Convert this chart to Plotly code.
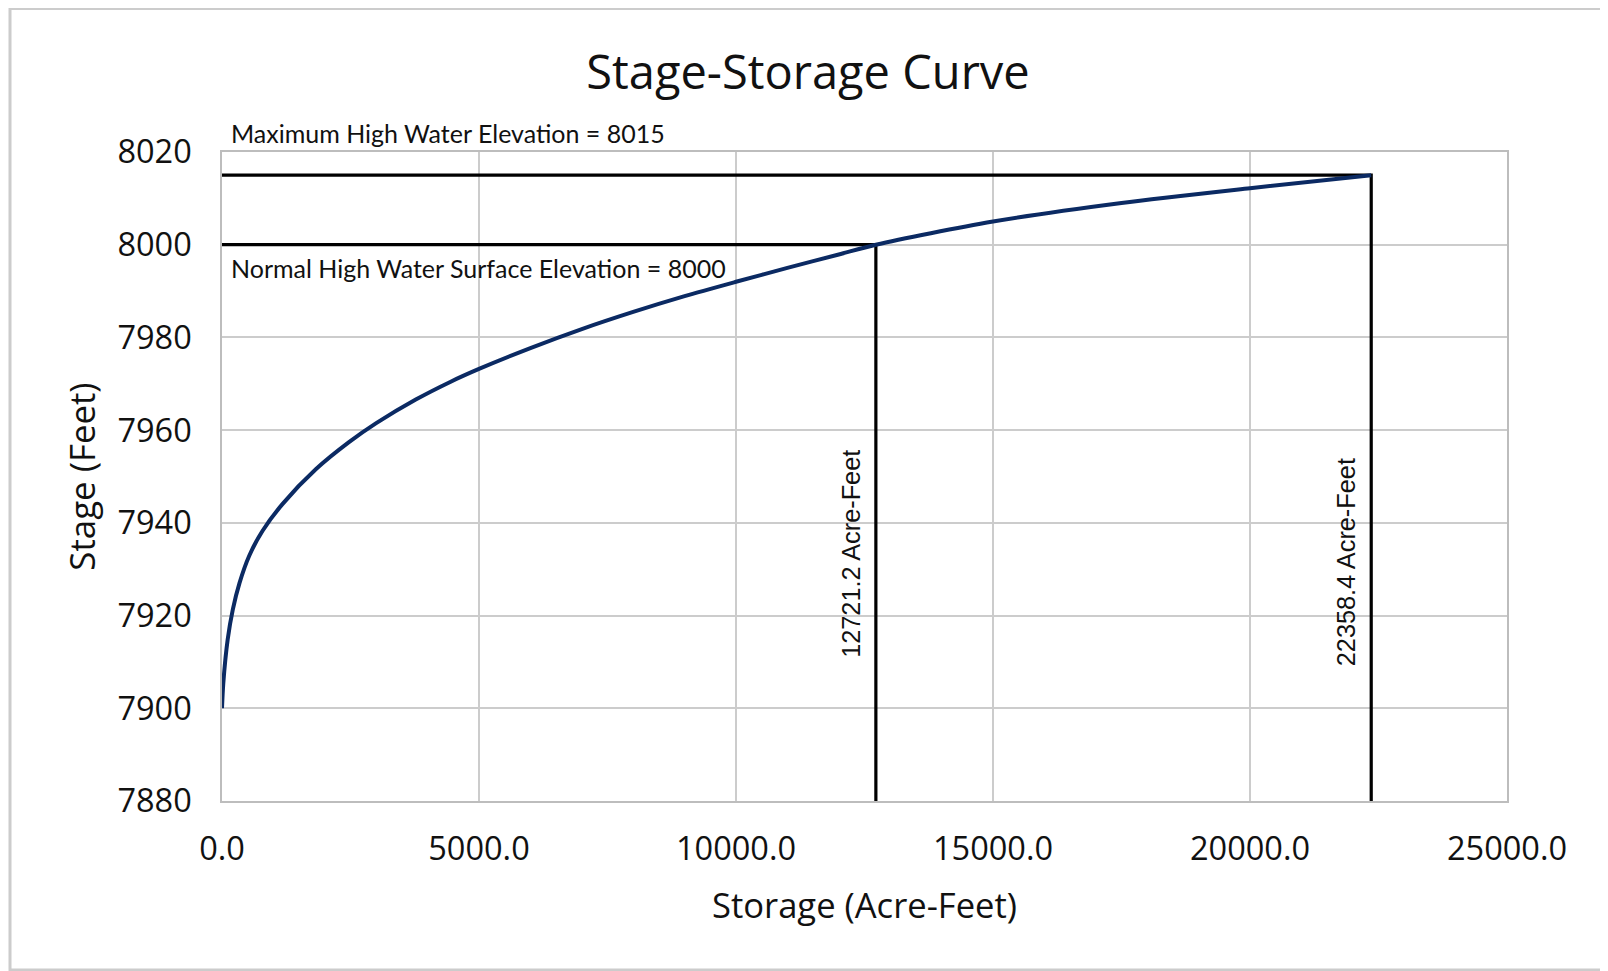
import plotly.graph_objects as go

# Stage-storage curve
storage = [0, 25, 110, 210, 340, 530, 790, 1180, 1830, 2470, 3000, 3770, 4440,
           5000, 6000, 7000, 8000, 9000, 10000, 11000, 12000, 12721.2, 15000,
           17500, 20000, 22358.4]
stage = [7900, 7905.4, 7914.8, 7921.3, 7927, 7932.9, 7938.3, 7944.1, 7951.6,
         7957.4, 7961.5, 7966.6, 7970.4, 7973.2, 7977.7, 7981.8, 7985.5, 7988.9,
         7992.0, 7995.0, 7997.9, 8000, 8005.0, 8009.0, 8012.2, 8015]

# Reference elevations / storages
normal_storage = 12721.2
normal_stage = 8000
max_storage = 22358.4
max_stage = 8015
axis_min_stage = 7880

x_ticks = [0, 5000, 10000, 15000, 20000, 25000]
x_tick_labels = ["0.0", "5000.0", "10000.0", "15000.0", "20000.0", "25000.0"]
y_ticks = [7880, 7900, 7920, 7940, 7960, 7980, 8000, 8020]

fig = go.Figure()

# Max high water lines
fig.add_trace(go.Scatter(
    x=[0, max_storage, max_storage], y=[max_stage, max_stage, axis_min_stage],
    mode="lines", line=dict(color="black", width=3.2), hoverinfo="skip",
    showlegend=False))
# Normal high water lines
fig.add_trace(go.Scatter(
    x=[0, normal_storage, normal_storage], y=[normal_stage, normal_stage, axis_min_stage],
    mode="lines", line=dict(color="black", width=3.2), hoverinfo="skip",
    showlegend=False))
# Curve
fig.add_trace(go.Scatter(
    x=storage, y=stage, mode="lines",
    line=dict(color="#0b2a63", width=4, shape="spline", smoothing=0.8),
    showlegend=False))

W, H = 1608, 971
L, R, T, B = 214, 109, 144, 178
pw, ph = W - L - R, H - T - B

def px_x(px):
    return (px - L) / pw

def px_y(py):
    return (H - B - py) / ph

grid = "#cccccc"
fig.update_layout(
    width=W, height=H,
    margin=dict(l=L, r=R, t=T, b=B),
    paper_bgcolor="white", plot_bgcolor="white",
    title=dict(text="Stage-Storage Curve", x=800 / W, xref="container",
               xanchor="center", y=1 - 65 / H, yref="container", yanchor="middle",
               font=dict(family="Open Sans", size=47, color="#111")),
    xaxis=dict(range=[0, 25000], tickvals=x_ticks, ticktext=x_tick_labels,
               showgrid=True, gridcolor=grid, gridwidth=1.5, zeroline=False,
               showline=True, linecolor="#bdbdbd", linewidth=1.5, mirror=True,
               ticks="", ticklabelstandoff=18,
               tickfont=dict(family="Open Sans", size=32.5, color="#111"),
               title=dict(text="Storage (Acre-Feet)", standoff=25,
                          font=dict(family="Open Sans", size=34.6, color="#111"))),
    yaxis=dict(range=[7880, 8020], tickvals=y_ticks,
               showgrid=True, gridcolor=grid, gridwidth=1.5, zeroline=False,
               showline=True, linecolor="#bdbdbd", linewidth=1.5, mirror=True,
               ticks="", ticklabelstandoff=22,
               tickfont=dict(family="Open Sans", size=32.5, color="#111"),
               title=dict(text="Stage (Feet)", standoff=11,
                          font=dict(family="Open Sans", size=34.8, color="#111"))),
)

fig.add_annotation(text="Maximum High Water Elevation = 8015", xref="paper", yref="paper",
                   x=px_x(221), y=px_y(125), xanchor="left", yanchor="middle", showarrow=False,
                   font=dict(family="Lato", size=25, color="#111"))
fig.add_annotation(text="Normal High Water Surface Elevation = 8000", xref="paper", yref="paper",
                   x=px_x(221), y=px_y(260), xanchor="left", yanchor="middle", showarrow=False,
                   font=dict(family="Lato", size=25, color="#111"))
fig.add_annotation(text=f"{normal_storage} Acre-Feet", x=normal_storage, y=px_y(546), yref="paper",
                   xshift=-25, textangle=-90, showarrow=False, xanchor="center", yanchor="middle",
                   font=dict(family="Liberation Sans", size=25.3, color="#111"))
fig.add_annotation(text=f"{max_storage} Acre-Feet", x=max_storage, y=px_y(554), yref="paper",
                   xshift=-25, textangle=-90, showarrow=False, xanchor="center", yanchor="middle",
                   font=dict(family="Liberation Sans", size=25.3, color="#111"))

# outer chart border
fig.add_shape(type="rect", xref="paper", yref="paper",
              x0=px_x(2), x1=px_x(1604), y0=px_y(962), y1=px_y(0.5),
              line=dict(color="#cccccc", width=3), fillcolor="rgba(0,0,0,0)", layer="below")

fig.write_html("out.html")
